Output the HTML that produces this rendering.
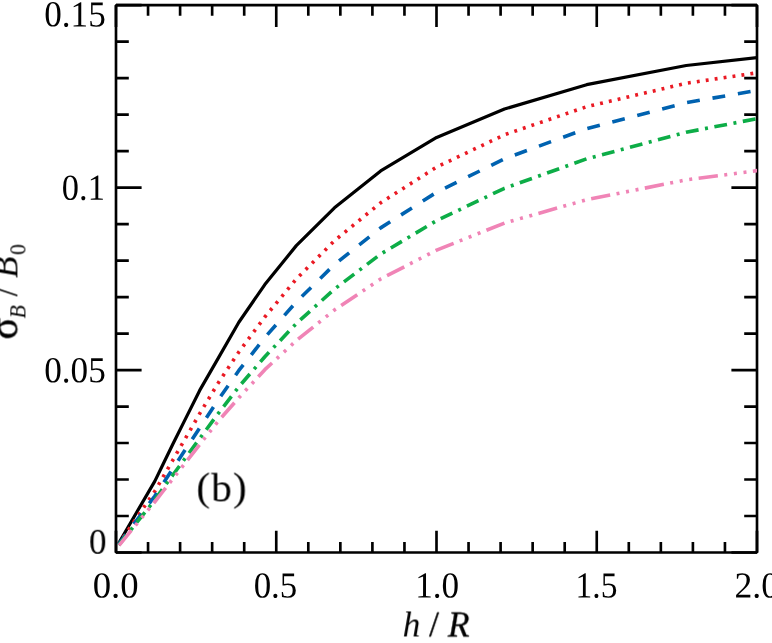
<!DOCTYPE html>
<html><head><meta charset="utf-8"><title>chart</title>
<style>
html,body{margin:0;padding:0;background:#fff;}
body{width:772px;height:643px;overflow:hidden;font-family:"Liberation Serif",serif;}
svg{display:block;}
text{font-family:"Liberation Serif",serif;fill:#000;}
</style></head><body>
<svg width="772" height="643" viewBox="0 0 772 643">
<rect width="772" height="643" fill="#fff"/>
<defs><clipPath id="pc"><rect x="116.0" y="5.2" width="641.0" height="547.3"/></clipPath></defs>
<g opacity="0.999">
<path d="M116.0,5.2 H757.0 V552.5 H116.0 Z" fill="none" stroke="#000" stroke-width="2.65" stroke-linejoin="bevel"/>
<path d="M116.00,552.5 v-21.8 M116.00,5.2 v21.8 M148.05,552.5 v-10.6 M148.05,5.2 v10.6 M180.10,552.5 v-10.6 M180.10,5.2 v10.6 M212.15,552.5 v-10.6 M212.15,5.2 v10.6 M244.20,552.5 v-10.6 M244.20,5.2 v10.6 M276.25,552.5 v-21.8 M276.25,5.2 v21.8 M308.30,552.5 v-10.6 M308.30,5.2 v10.6 M340.35,552.5 v-10.6 M340.35,5.2 v10.6 M372.40,552.5 v-10.6 M372.40,5.2 v10.6 M404.45,552.5 v-10.6 M404.45,5.2 v10.6 M436.50,552.5 v-21.8 M436.50,5.2 v21.8 M468.55,552.5 v-10.6 M468.55,5.2 v10.6 M500.60,552.5 v-10.6 M500.60,5.2 v10.6 M532.65,552.5 v-10.6 M532.65,5.2 v10.6 M564.70,552.5 v-10.6 M564.70,5.2 v10.6 M596.75,552.5 v-21.8 M596.75,5.2 v21.8 M628.80,552.5 v-10.6 M628.80,5.2 v10.6 M660.85,552.5 v-10.6 M660.85,5.2 v10.6 M692.90,552.5 v-10.6 M692.90,5.2 v10.6 M724.95,552.5 v-10.6 M724.95,5.2 v10.6 M757.00,552.5 v-21.8 M757.00,5.2 v21.8 M116.0,552.50 h25.6 M757.0,552.50 h-25.6 M116.0,516.01 h12.8 M757.0,516.01 h-12.8 M116.0,479.53 h12.8 M757.0,479.53 h-12.8 M116.0,443.04 h12.8 M757.0,443.04 h-12.8 M116.0,406.55 h12.8 M757.0,406.55 h-12.8 M116.0,370.07 h25.6 M757.0,370.07 h-25.6 M116.0,333.58 h12.8 M757.0,333.58 h-12.8 M116.0,297.09 h12.8 M757.0,297.09 h-12.8 M116.0,260.61 h12.8 M757.0,260.61 h-12.8 M116.0,224.12 h12.8 M757.0,224.12 h-12.8 M116.0,187.63 h25.6 M757.0,187.63 h-25.6 M116.0,151.15 h12.8 M757.0,151.15 h-12.8 M116.0,114.66 h12.8 M757.0,114.66 h-12.8 M116.0,78.17 h12.8 M757.0,78.17 h-12.8 M116.0,41.69 h12.8 M757.0,41.69 h-12.8 M116.0,5.20 h25.6 M757.0,5.20 h-25.6 " fill="none" stroke="#000" stroke-width="2.65"/>
</g>
<g clip-path="url(#pc)">
<path d="M118.40,543.70 L154.85,481.14 L163.06,464.22 L173.02,443.73 L185.08,419.62 L199.69,390.42 L217.40,359.61 L238.85,322.28 L264.83,284.57 L296.31,245.63 L334.46,207.79 L380.67,170.98 L436.65,137.43 L504.48,109.00 L586.65,84.69 L686.21,65.50 L757.30,57.67" fill="none" stroke="#000000" stroke-width="3.2" stroke-linejoin="round"/>
<path d="M118.40,544.50 L154.85,491.19 L163.06,476.99 L173.02,459.78 L185.08,438.93 L199.69,413.68 L217.40,384.31 L238.85,351.96 L264.83,316.99 L296.31,279.02 L334.46,240.73 L380.67,202.77 L436.65,167.05 L504.48,134.76 L586.65,106.71 L686.21,83.25 L757.30,72.77" fill="none" stroke="#EA1A24" stroke-width="3.6" stroke-linejoin="round" stroke-dasharray="2.9 6.12" stroke-dashoffset="0.37"/>
<path d="M118.40,544.60 L154.85,495.98 L163.06,483.50 L173.02,468.37 L185.08,450.06 L199.69,427.86 L217.40,400.97 L238.85,370.48 L264.83,337.56 L296.31,301.84 L334.46,264.53 L380.67,227.88 L436.65,192.24 L504.48,158.75 L586.65,128.61 L686.21,102.68 L757.30,90.39" fill="none" stroke="#0062B0" stroke-width="3.6" stroke-linejoin="round" stroke-dasharray="12.88 12.88" stroke-dashoffset="0.03"/>
<path d="M118.40,545.40 L154.85,499.95 L163.06,488.29 L173.02,474.78 L185.08,458.41 L199.69,438.58 L217.40,414.56 L238.85,386.75 L264.83,356.71 L296.31,323.55 L334.46,289.11 L380.67,254.09 L436.65,220.60 L504.48,188.27 L586.65,158.86 L686.21,132.22 L757.30,118.62" fill="none" stroke="#0DAD47" stroke-width="3.6" stroke-linejoin="round" stroke-dasharray="12.86 6.55 3.0 6.55" stroke-dashoffset="-0.47"/>
<path d="M118.40,546.30 L154.85,501.74 L163.06,491.25 L173.02,478.55 L185.08,463.15 L199.69,444.50 L217.40,422.13 L238.85,397.78 L264.83,369.67 L296.31,340.60 L334.46,309.98 L380.67,279.00 L436.65,250.09 L504.48,223.04 L586.65,199.72 L686.21,179.86 L757.30,170.62" fill="none" stroke="#F084B6" stroke-width="3.6" stroke-linejoin="round" stroke-dasharray="19.4 6.45 3.0 6.7 3.0 6.7 3.0 6.47" stroke-dashoffset="-1.07"/>
</g>
<g opacity="0.999">
<text transform="translate(115.66,597.6) rotate(0.03) scale(1.0037,1)" font-size="36.6" text-anchor="middle">0.0</text>
<text transform="translate(275.46,597.6) rotate(0.03) scale(0.9527,1)" font-size="36.6" text-anchor="middle">0.5</text>
<text transform="translate(437.10,597.6) rotate(0.03) scale(0.96,1)" font-size="36.6" text-anchor="middle">1.0</text>
<text transform="translate(596.46,597.6) rotate(0.03) scale(0.9141,1)" font-size="36.6" text-anchor="middle">1.5</text>
<text transform="translate(756.72,597.6) rotate(0.03) scale(0.9739,1)" font-size="36.6" text-anchor="middle">2.0</text>
<text transform="translate(106.48,553.80) rotate(0.03) scale(0.96,1)" font-size="36.6" text-anchor="end">0</text>
<text transform="translate(105.70,382.17) rotate(0.03) scale(0.96,1)" font-size="36.6" text-anchor="end">0.05</text>
<text transform="translate(104.83,199.73) rotate(0.03) scale(0.94,1)" font-size="36.6" text-anchor="end">0.1</text>
<text transform="translate(105.70,26.40) rotate(0.03) scale(0.96,1)" font-size="36.6" text-anchor="end">0.15</text>
<text transform="translate(436.1,636.0) rotate(0.03) scale(0.97,0.955)" font-size="36.6" text-anchor="middle" font-style="italic">h <tspan font-style="normal" stroke="#000" stroke-width="0.35">/</tspan> <tspan stroke="#000" stroke-width="0.3">R</tspan></text>
<text transform="translate(17.4,339.5) rotate(-90) scale(0.96,1)" font-size="36.6"><tspan font-size="42.46" stroke="#000" stroke-width="0.5">σ</tspan><tspan font-style="italic" font-size="22.69" dy="8" dx="-1.04">B</tspan><tspan dy="-8"> / </tspan><tspan font-style="italic">B</tspan><tspan font-size="22.69" dy="8" dx="1.5">0</tspan></text>
<text transform="translate(196.4,501.4) rotate(0.03) scale(1.0375,1)" font-size="40" letter-spacing="0.87"><tspan dy="-1">(</tspan><tspan dy="1.1">b</tspan><tspan dy="-1.1">)</tspan></text>
</g>
</svg>
</body></html>
